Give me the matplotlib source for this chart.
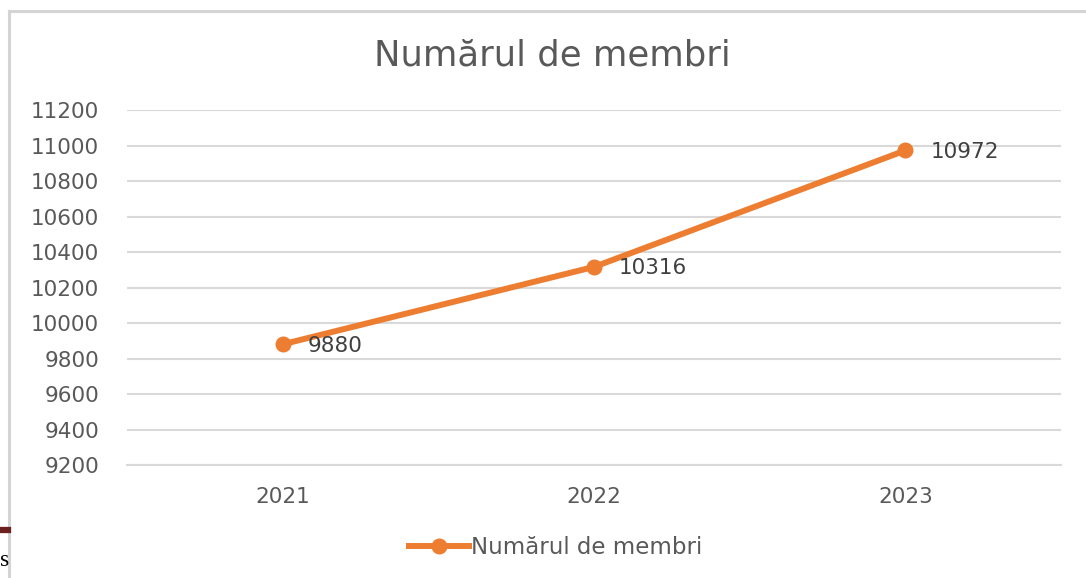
import matplotlib
matplotlib.use("Agg")
import matplotlib.pyplot as plt
from matplotlib.lines import Line2D

years = ["2021", "2022", "2023"]
members = [9880, 10316, 10972]
yticks = [9200, 9400, 9600, 9800, 10000, 10200, 10400, 10600, 10800, 11000, 11200]
title = "Numărul de membri"
series_name = "Numărul de membri"

W, H = 1086, 578
plt.rcParams['font.family'] = ['DejaVu Sans']
fig = plt.figure(figsize=(W / 100, H / 100), dpi=100)
fig.patch.set_facecolor("white")

ax = fig.add_axes([127 / W, 1 - 465 / H, (1061 - 127) / W, (465 - 110) / H])
orange = "#ED7D31"
text_gray = "#595959"
grid_gray = "#D9D9D9"

x = list(range(len(years)))
ax.plot(x, members, color=orange, lw=4.3, marker="o", markersize=10.5,
        solid_capstyle="round", zorder=3, label=series_name)
for xi, v in zip(x, members):
    ax.annotate(str(v), (xi, v), xytext=(18, -1), textcoords="offset points",
                ha="left", va="center", fontsize=15.5, color="#404040")

ax.set_xlim(-0.5, 2.5)
ax.set_ylim(9200, 11200)
ax.set_yticks(yticks)
ax.set_yticklabels([str(t) for t in yticks])
ax.set_xticks(x)
ax.set_xticklabels(years)
ax.yaxis.grid(True, color=grid_gray, lw=1.5)
ax.set_axisbelow(True)
for s in ["top", "right", "left"]:
    ax.spines[s].set_visible(False)
ax.spines["bottom"].set_color(grid_gray)
ax.spines["bottom"].set_linewidth(1.5)
ax.tick_params(axis="both", length=0, labelsize=15.5, labelcolor=text_gray)
ax.tick_params(axis="y", pad=20)
ax.tick_params(axis="x", pad=16)

fig.text(552 / W, 1 - 55 / H, title, ha="center", va="center",
         fontsize=25.5, color=text_gray)

handle = Line2D([], [], color=orange, lw=4.3, marker="o", markersize=10.5)
fig.legend([handle], [series_name], loc="center", bbox_to_anchor=(556 / W, 1 - 548 / H),
           frameon=False, fontsize=16.5, labelcolor=text_gray, handlelength=2.6,
           handletextpad=0.1)

# chart border
fig.add_artist(Line2D([9 / W, 9 / W], [0, 1 - 11 / H], color="#D4D4D4", lw=2.2))
fig.add_artist(Line2D([9 / W, 1], [1 - 11 / H, 1 - 11 / H], color="#D4D4D4", lw=2.2))
# artifacts at lower-left edge
fig.add_artist(Line2D([0, 8 / W], [1 - 530 / H, 1 - 530 / H], color="#6B1F1F", lw=4.5))
fig.text(0, 1 - 561 / H, "s", ha="left", va="center", fontsize=17,
         color="black", family=["Liberation Serif", "DejaVu Serif"])

fig.savefig("out.png", dpi=100)
